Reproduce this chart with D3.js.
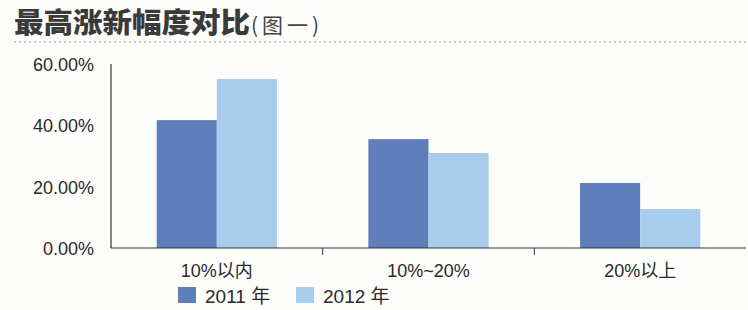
<!DOCTYPE html>
<html>
<head>
<meta charset="utf-8">
<script src="https://cdn.jsdelivr.net/npm/d3@7"></script>
<style>
  body { margin: 0; background: #fdfdfb; }
  svg { display: block; }
  text { font-family: "Liberation Sans", "Noto Sans CJK SC", sans-serif; fill: #2a2a2a; }
</style>
</head>
<body>
<svg id="chart"></svg>
<script>
// Chart data
const categories = ['10%以内', '10%~20%', '20%以上'];
const seriesNames = ['2011 年', '2012 年'];
const values2011 = [41.7, 35.5, 21.2];
const values2012 = [55.1, 31.0, 12.7];
const yTicks = [0, 20, 40, 60];

const WIDTH = 748;
const HEIGHT = 310;
const AXIS_LEFT = 111;
const AXIS_RIGHT = 746;
const AXIS_TOP = 64;
const AXIS_BOTTOM = 248;
const COLORS = ['#5e7fba', '#a8cdec'];

const translate = (x, y) => `translate(${x}, ${y})`;

const svg = d3.select('#chart')
	.attr('width', WIDTH)
	.attr('height', HEIGHT);

// Title
const title = svg.append('text')
	.attr('x', 14)
	.attr('y', 33);
title.append('tspan')
	.text('最高涨新幅度对比')
	.style('font-family', '"Noto Sans CJK SC"')
	.style('font-weight', 900)
	.style('font-size', '28px')
	.style('fill', '#3a3a3a')
	.attr('textLength', 236)
	.attr('lengthAdjust', 'spacingAndGlyphs');
title.append('tspan')
	.text('(图一)')
	.style('font-family', '"Noto Sans CJK SC"')
	.style('font-size', '21px')
	.style('fill', '#444')
	.style('letter-spacing', '4px')
	.attr('dx', 1);

svg.append('line')
	.attr('x1', 14)
	.attr('x2', WIDTH)
	.attr('y1', 42)
	.attr('y2', 42)
	.attr('stroke', '#9a9a9a')
	.attr('stroke-width', 1)
	.attr('stroke-dasharray', '2,3');

// Scales
const x0 = d3.scaleBand()
	.domain(categories)
	.range([AXIS_LEFT, AXIS_RIGHT]);

const x1 = d3.scaleBand()
	.domain(seriesNames)
	.range([0, x0.bandwidth()])
	.paddingOuter(0.76);

const y = d3.scaleLinear()
	.domain([0, 60])
	.range([AXIS_BOTTOM, AXIS_TOP]);

// Bars
const rows = categories.map((c, i) => ({ category: c, values: [values2011[i], values2012[i]] }));

const groups = svg.append('g')
	.selectAll('g')
	.data(rows)
	.enter()
	.append('g')
	.attr('transform', d => translate(x0(d.category), 0));

groups.selectAll('rect')
	.data(d => d.values.map((v, j) => ({ name: seriesNames[j], value: v, j })))
	.enter()
	.append('rect')
	.attr('x', d => x1(d.name))
	.attr('width', x1.bandwidth())
	.attr('y', d => y(d.value))
	.attr('height', d => AXIS_BOTTOM - y(d.value))
	.attr('fill', d => COLORS[d.j]);

// Y axis (line + labels, no ticks)
svg.append('line')
	.attr('x1', AXIS_LEFT)
	.attr('x2', AXIS_LEFT)
	.attr('y1', y(60))
	.attr('y2', AXIS_BOTTOM)
	.attr('stroke', '#333')
	.attr('stroke-width', 1.2);

svg.append('g')
	.selectAll('text')
	.data(yTicks)
	.enter()
	.append('text')
	.attr('x', 94)
	.attr('y', d => y(d) + 7)
	.attr('text-anchor', 'end')
	.style('font-size', '18px')
	.text(d => `${d.toFixed(2)}%`);

// X axis
svg.append('line')
	.attr('x1', AXIS_LEFT)
	.attr('x2', AXIS_RIGHT)
	.attr('y1', AXIS_BOTTOM)
	.attr('y2', AXIS_BOTTOM)
	.attr('stroke', '#333')
	.attr('stroke-width', 1.2);

svg.append('g')
	.selectAll('line')
	.data(categories.slice(1))
	.enter()
	.append('line')
	.attr('x1', d => x0(d))
	.attr('x2', d => x0(d))
	.attr('y1', AXIS_BOTTOM)
	.attr('y2', AXIS_BOTTOM + 7)
	.attr('stroke', '#333');

svg.append('g')
	.selectAll('text')
	.data(categories)
	.enter()
	.append('text')
	.attr('x', d => x0(d) + x0.bandwidth() / 2)
	.attr('y', 277)
	.attr('text-anchor', 'middle')
	.style('font-size', '18px')
	.text(d => d);

// Legend
const legend = svg.append('g')
	.selectAll('g')
	.data(seriesNames)
	.enter()
	.append('g')
	.attr('transform', (d, i) => translate(178 + i * 118, 287));

legend.append('rect')
	.attr('width', 18)
	.attr('height', 16)
	.attr('fill', (d, i) => COLORS[i]);

legend.append('text')
	.attr('x', 27)
	.attr('y', 16)
	.style('font-size', '19px')
	.text(d => d);
</script>
</body>
</html>
